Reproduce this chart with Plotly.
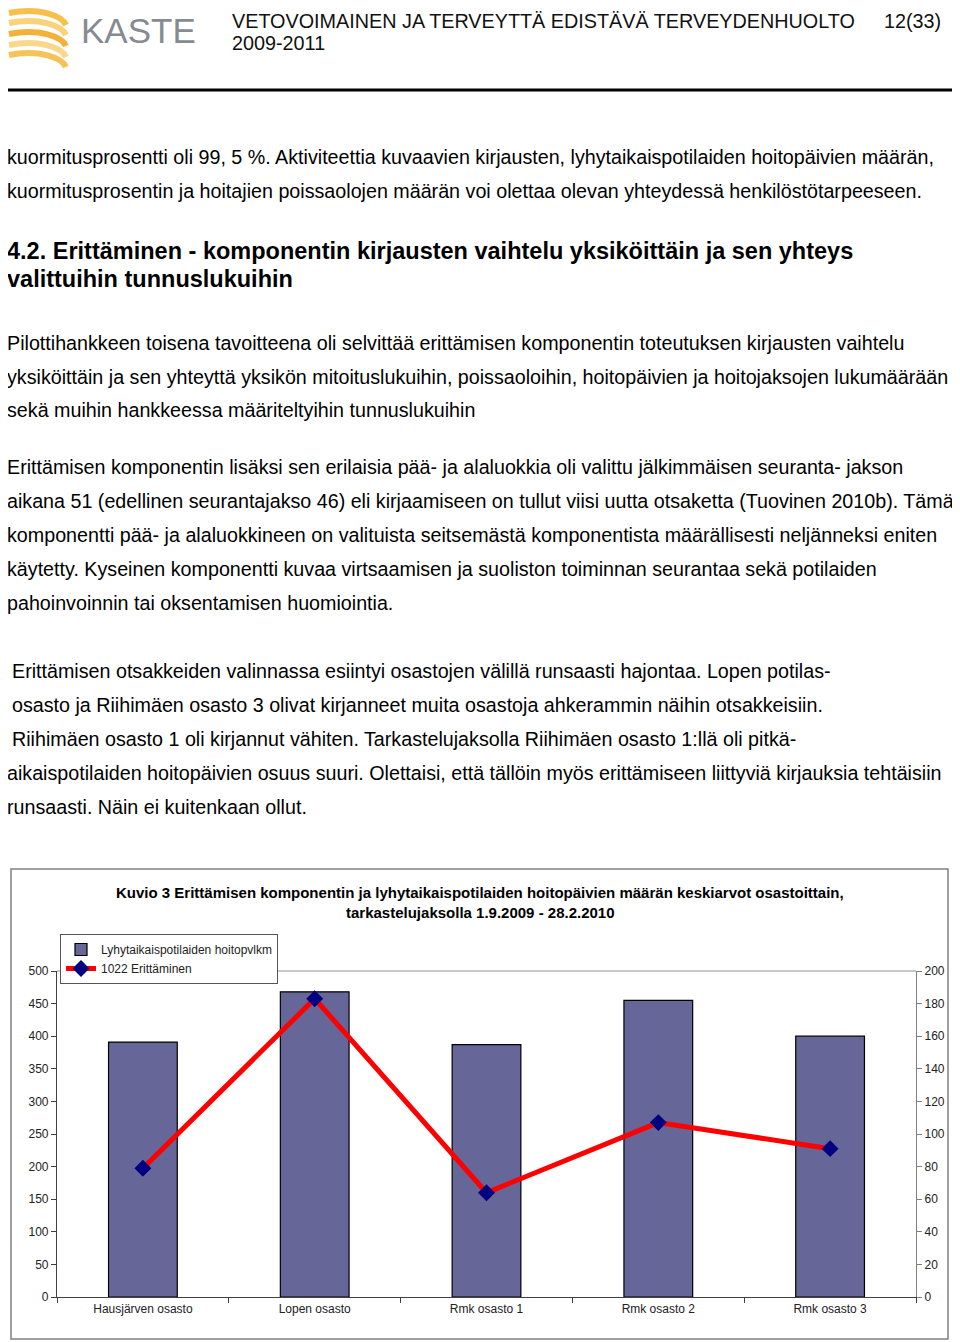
import plotly.graph_objects as go

# --- data ---
osastot = ["Hausjärven osasto", "Lopen osasto", "Rmk osasto 1", "Rmk osasto 2", "Rmk osasto 3"]
hoitopv_lkm = [391, 468, 387, 455, 400]          # bars, left axis
erittaminen = [79, 183, 64, 107, 91]             # line, right axis
left_ticks = list(range(0, 501, 50))
right_ticks = list(range(0, 201, 20))

# the page body adds an 8px margin, so the figure is drawn 8px smaller
OFF = 8
W, H = 960 - OFF, 1342 - OFF
# plot area in reference page pixels
PL, PR, PT, PB = 57, 916, 971, 1297


def px(x):
    return (x - PL) / (PR - PL)


def py(y):
    return (PB - y) / (PB - PT)


FONT = "Liberation Sans, Arial, sans-serif"

fig = go.Figure()

fig.add_trace(
    go.Bar(
        x=osastot,
        y=hoitopv_lkm,
        name="Lyhytaikaispotilaiden hoitopvlkm",
        marker=dict(color="#666699", line=dict(color="#000000", width=1.2)),
        width=0.4,
    )
)
fig.add_trace(
    go.Scatter(
        x=osastot,
        y=erittaminen,
        name="1022 Erittäminen",
        yaxis="y2",
        mode="lines+markers",
        line=dict(color="#FF0000", width=5),
        marker=dict(symbol="diamond", size=13, color="#000080"),
    )
)

# --- page text ---
body = [
    (7, 157, "kuormitusprosentti oli 99, 5 %. Aktiviteettia kuvaavien kirjausten, lyhytaikaispotilaiden hoitopäivien määrän,"),
    (7, 191, "kuormitusprosentin ja hoitajien poissaolojen määrän voi olettaa olevan yhteydessä henkilöstötarpeeseen."),
    (7, 343, "Pilottihankkeen toisena tavoitteena oli selvittää erittämisen komponentin toteutuksen kirjausten vaihtelu"),
    (7, 377, "yksiköittäin ja sen yhteyttä yksikön mitoituslukuihin, poissaoloihin, hoitopäivien ja hoitojaksojen lukumäärään"),
    (7, 410, "sekä muihin hankkeessa määriteltyihin tunnuslukuihin"),
    (7, 467, "Erittämisen komponentin lisäksi sen erilaisia pää- ja alaluokkia oli valittu jälkimmäisen seuranta- jakson"),
    (7, 501, "aikana 51 (edellinen seurantajakso 46) eli kirjaamiseen on tullut viisi uutta otsaketta (Tuovinen 2010b). Tämä"),
    (7, 535, "komponentti pää- ja alaluokkineen on valituista seitsemästä komponentista määrällisesti neljänneksi eniten"),
    (7, 569, "käytetty. Kyseinen komponentti kuvaa virtsaamisen ja suoliston toiminnan seurantaa sekä potilaiden"),
    (7, 603, "pahoinvoinnin tai oksentamisen huomiointia."),
    (12, 671, "Erittämisen otsakkeiden valinnassa esiintyi osastojen välillä runsaasti hajontaa. Lopen potilas-"),
    (12, 705, "osasto ja Riihimäen osasto 3 olivat kirjanneet muita osastoja ahkerammin näihin otsakkeisiin."),
    (12, 739, "Riihimäen osasto 1 oli kirjannut vähiten. Tarkastelujaksolla Riihimäen osasto 1:llä oli pitkä-"),
    (7, 773, "aikaispotilaiden hoitopäivien osuus suuri. Olettaisi, että tällöin myös erittämiseen liittyviä kirjauksia tehtäisiin"),
    (7, 807, "runsaasti. Näin ei kuitenkaan ollut."),
]

annotations = []


def text(x, y, s, size=19.7, bold=False, anchor="left", color="#000000"):
    if bold:
        s = "<b>" + s + "</b>"
    # small correction for the annotation's own padding
    if anchor == "left":
        x = x - 2
    elif anchor == "right":
        x = x + 2
    annotations.append(
        dict(
            x=px(x), y=py(y), xref="paper", yref="paper",
            text=s, showarrow=False, xanchor=anchor, yanchor="middle",
            font=dict(family=FONT, size=size, color=color),
        )
    )


for x, y, s in body:
    text(x, y, s)

text(7, 251, "4.2. Erittäminen - komponentin kirjausten vaihtelu yksiköittäin ja sen yhteys", size=23.5, bold=True)
text(7, 279, "valittuihin tunnuslukuihin", size=23.5, bold=True)

# header (kept below the page margin so nothing is clipped)
text(232, 21, "VETOVOIMAINEN JA TERVEYTTÄ EDISTÄVÄ TERVEYDENHUOLTO", size=19.8, color="#111111")
text(941, 21, "12(33)", size=19.8, anchor="right", color="#111111")
text(232, 43, "2009-2011", size=19.8, color="#111111")
text(81, 30, "KASTE", size=35, color="#868b92")

# chart title
text(480, 892, "Kuvio 3 Erittämisen komponentin ja lyhytaikaispotilaiden hoitopäivien määrän keskiarvot osastoittain,", size=15, bold=True, anchor="center")
text(480, 912, "tarkastelujaksolla 1.9.2009 - 28.2.2010", size=15, bold=True, anchor="center")

shapes = []


def rect(x0, y0, x1, y1, color, width):
    shapes.append(
        dict(type="rect", xref="paper", yref="paper",
             x0=px(x0), x1=px(x1), y0=py(y0), y1=py(y1),
             line=dict(color=color, width=width), layer="below")
    )


def hline(x0, x1, y, color, width):
    shapes.append(
        dict(type="line", xref="paper", yref="paper",
             x0=px(x0), x1=px(x1), y0=py(y), y1=py(y),
             line=dict(color=color, width=width))
    )


# chart frame, plot-area top border, page rule
rect(11, 869, 948, 1339, "#808080", 1.5)
hline(PL, PR, PT, "#909090", 1.2)
hline(3, 957, 90, "#000000", 3)

# logo waves (decoration)
wave_rows = [13, 23, 34, 45, 55]
wave_cols = ["#F6C04A", "#F9D27C", "#F4B13A", "#F9D88C", "#F6C359"]
for y0, c in zip(wave_rows, wave_cols):
    pts = [(9, y0), (40, y0 - 6), (62, y0 + 3), (66, y0 + 12)]
    path = "M {},{} C {},{} {},{} {},{}".format(
        px(pts[0][0]), py(pts[0][1]), px(pts[1][0]), py(pts[1][1]),
        px(pts[2][0]), py(pts[2][1]), px(pts[3][0]), py(pts[3][1]),
    )
    shapes.append(dict(type="path", xref="paper", yref="paper", path=path,
                       line=dict(color=c, width=6)))

fig.update_layout(
    width=W,
    height=H,
    # margins are measured on the page, then shifted by the body margin
    margin=dict(l=PL - OFF, r=960 - PR, t=PT - OFF, b=1342 - PB, pad=0),
    paper_bgcolor="white",
    plot_bgcolor="white",
    font=dict(family=FONT, size=12, color="#222222"),
    showlegend=True,
    legend=dict(
        x=px(60), y=py(934), xanchor="left", yanchor="top",
        bordercolor="#555555", borderwidth=1, bgcolor="white",
        font=dict(size=12, color="#222222"),
        tracegroupgap=0, itemwidth=30,
    ),
    xaxis=dict(
        showline=True, linecolor="#404040", linewidth=1.2,
        ticks="outside", tickson="boundaries", ticklen=5, tickcolor="#404040",
        showgrid=False, tickfont=dict(size=12), fixedrange=True,
    ),
    yaxis=dict(
        range=[0, 500], tickvals=left_ticks, showgrid=False, zeroline=False,
        showline=True, linecolor="#404040", linewidth=1.2,
        ticks="outside", ticklen=5, tickcolor="#404040",
        tickfont=dict(size=12),
    ),
    yaxis2=dict(
        range=[0, 200], tickvals=right_ticks, overlaying="y", side="right",
        showgrid=False, zeroline=False,
        showline=True, linecolor="#808080", linewidth=1.2,
        ticks="outside", ticklen=5, tickcolor="#808080",
        tickfont=dict(size=12),
    ),
    bargap=0.6,
    annotations=annotations,
    shapes=shapes,
)

fig.write_html("out.html")
